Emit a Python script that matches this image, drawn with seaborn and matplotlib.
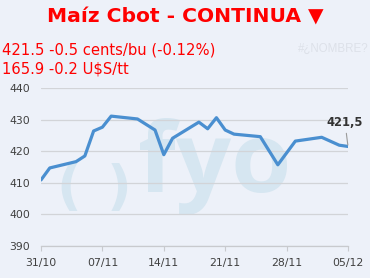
import matplotlib
matplotlib.use("Agg")
import matplotlib.pyplot as plt
import seaborn as sns
import pandas as pd

# ---- data ----
dates = ["2019-10-31", "2019-11-01", "2019-11-04", "2019-11-05", "2019-11-06",
         "2019-11-07", "2019-11-08", "2019-11-11", "2019-11-13", "2019-11-14",
         "2019-11-15", "2019-11-18", "2019-11-19", "2019-11-20", "2019-11-21",
         "2019-11-22", "2019-11-25", "2019-11-27", "2019-11-29", "2019-12-02",
         "2019-12-04", "2019-12-05"]
values = [410.9, 414.7, 416.7, 418.5, 426.4, 427.6, 431.1, 430.2, 426.7, 418.9,
          424.1, 429.2, 427.1, 430.6, 426.7, 425.4, 424.6, 415.7, 423.2, 424.4,
          421.9, 421.5]
tick_dates = ["2019-10-31", "2019-11-07", "2019-11-14", "2019-11-21", "2019-11-28", "2019-12-05"]
tick_labels = ["31/10", "07/11", "14/11", "21/11", "28/11", "05/12"]
y_ticks = [390, 400, 410, 420, 430, 440]
title = "Maíz Cbot - CONTINUA ▼"
line1 = "421.5 -0.5 cents/bu (-0.12%)"
line2 = "165.9 -0.2 U$S/tt"
last_label = "421,5"

df = pd.DataFrame({"fecha": pd.to_datetime(dates), "valor": values})

BG = "#EDF1F9"
sns.set_theme(style="white")
plt.rcParams["font.family"] = ["DejaVu Sans"]

W, H = 370, 278
fig = plt.figure(figsize=(W / 100, H / 100), dpi=100, facecolor=BG)

def fx(px):
    return px / W

def fy(py):
    return 1 - py / H

ax = fig.add_axes([fx(41), fy(246), fx(348) - fx(41), fy(88) - fy(246)])
ax.set_zorder(2)
ax.patch.set_alpha(0)

# watermark (behind axes)
wm = "#D6E6F1"
fig.text(fx(69), fy(189), "(", ha="center", va="center", fontsize=39, fontweight="bold",
         color=wm, zorder=0)
fig.text(fx(119), fy(189), ")", ha="center", va="center", fontsize=39, fontweight="bold",
         color=wm, zorder=0)
fig.text(fx(138), fy(192), "fyo", ha="left", va="baseline", fontsize=70, fontweight="bold",
         family=["Open Sans", "DejaVu Sans"], color=wm, zorder=0)

# grid
for v in y_ticks:
    ax.axhline(v, color="#D2D4D8", lw=0.9, zorder=1)

sns.lineplot(data=df, x="fecha", y="valor", ax=ax, color="#4A8FD0", lw=2.3, zorder=3)

ax.set_xlim(pd.Timestamp(dates[0]), pd.Timestamp(dates[-1]))
ax.set_ylim(390, 440)
ax.set_xticks(pd.to_datetime(tick_dates))
ax.set_xticklabels(tick_labels)
ax.set_yticks(y_ticks)
ax.set_yticklabels([str(v) for v in y_ticks])
ax.set_xlabel("")
ax.set_ylabel("")
for s in ["top", "right", "left"]:
    ax.spines[s].set_visible(False)
ax.spines["bottom"].set_color("#C8CACE")
ax.spines["bottom"].set_linewidth(0.9)
ax.tick_params(axis="x", bottom=True, length=3.5, width=0.8, color="#C8CACE", pad=5,
               labelsize=7.8, labelcolor="#404040")
ax.tick_params(axis="y", left=False, length=0, pad=8, labelsize=7.8, labelcolor="#404040")

ax.annotate(last_label, xy=(df["fecha"].iloc[-1], df["valor"].iloc[-1]),
            xytext=(-2.2, 17.5), textcoords="offset points", ha="center", va="center",
            fontsize=8.3, fontweight="bold", color="#333333",
            arrowprops=dict(arrowstyle="-", color="#999999", lw=0.8, shrinkA=1, shrinkB=1))

# texts
fig.text(fx(185), fy(16), title, ha="center", va="center", fontsize=14.6, fontweight="bold",
         color="#FF0000")
fig.text(fx(2), fy(50), line1, ha="left", va="center", fontsize=10.6, color="#FF0000")
fig.text(fx(2), fy(69), line2, ha="left", va="center", fontsize=10.6, color="#FF0000")
fig.text(fx(298), fy(49), "#¿NOMBRE?", ha="left", va="center", fontsize=8.3,
         family=["Liberation Sans", "DejaVu Sans"], color="#DDE1E9")

fig.savefig("out.png", dpi=100, facecolor=BG)
